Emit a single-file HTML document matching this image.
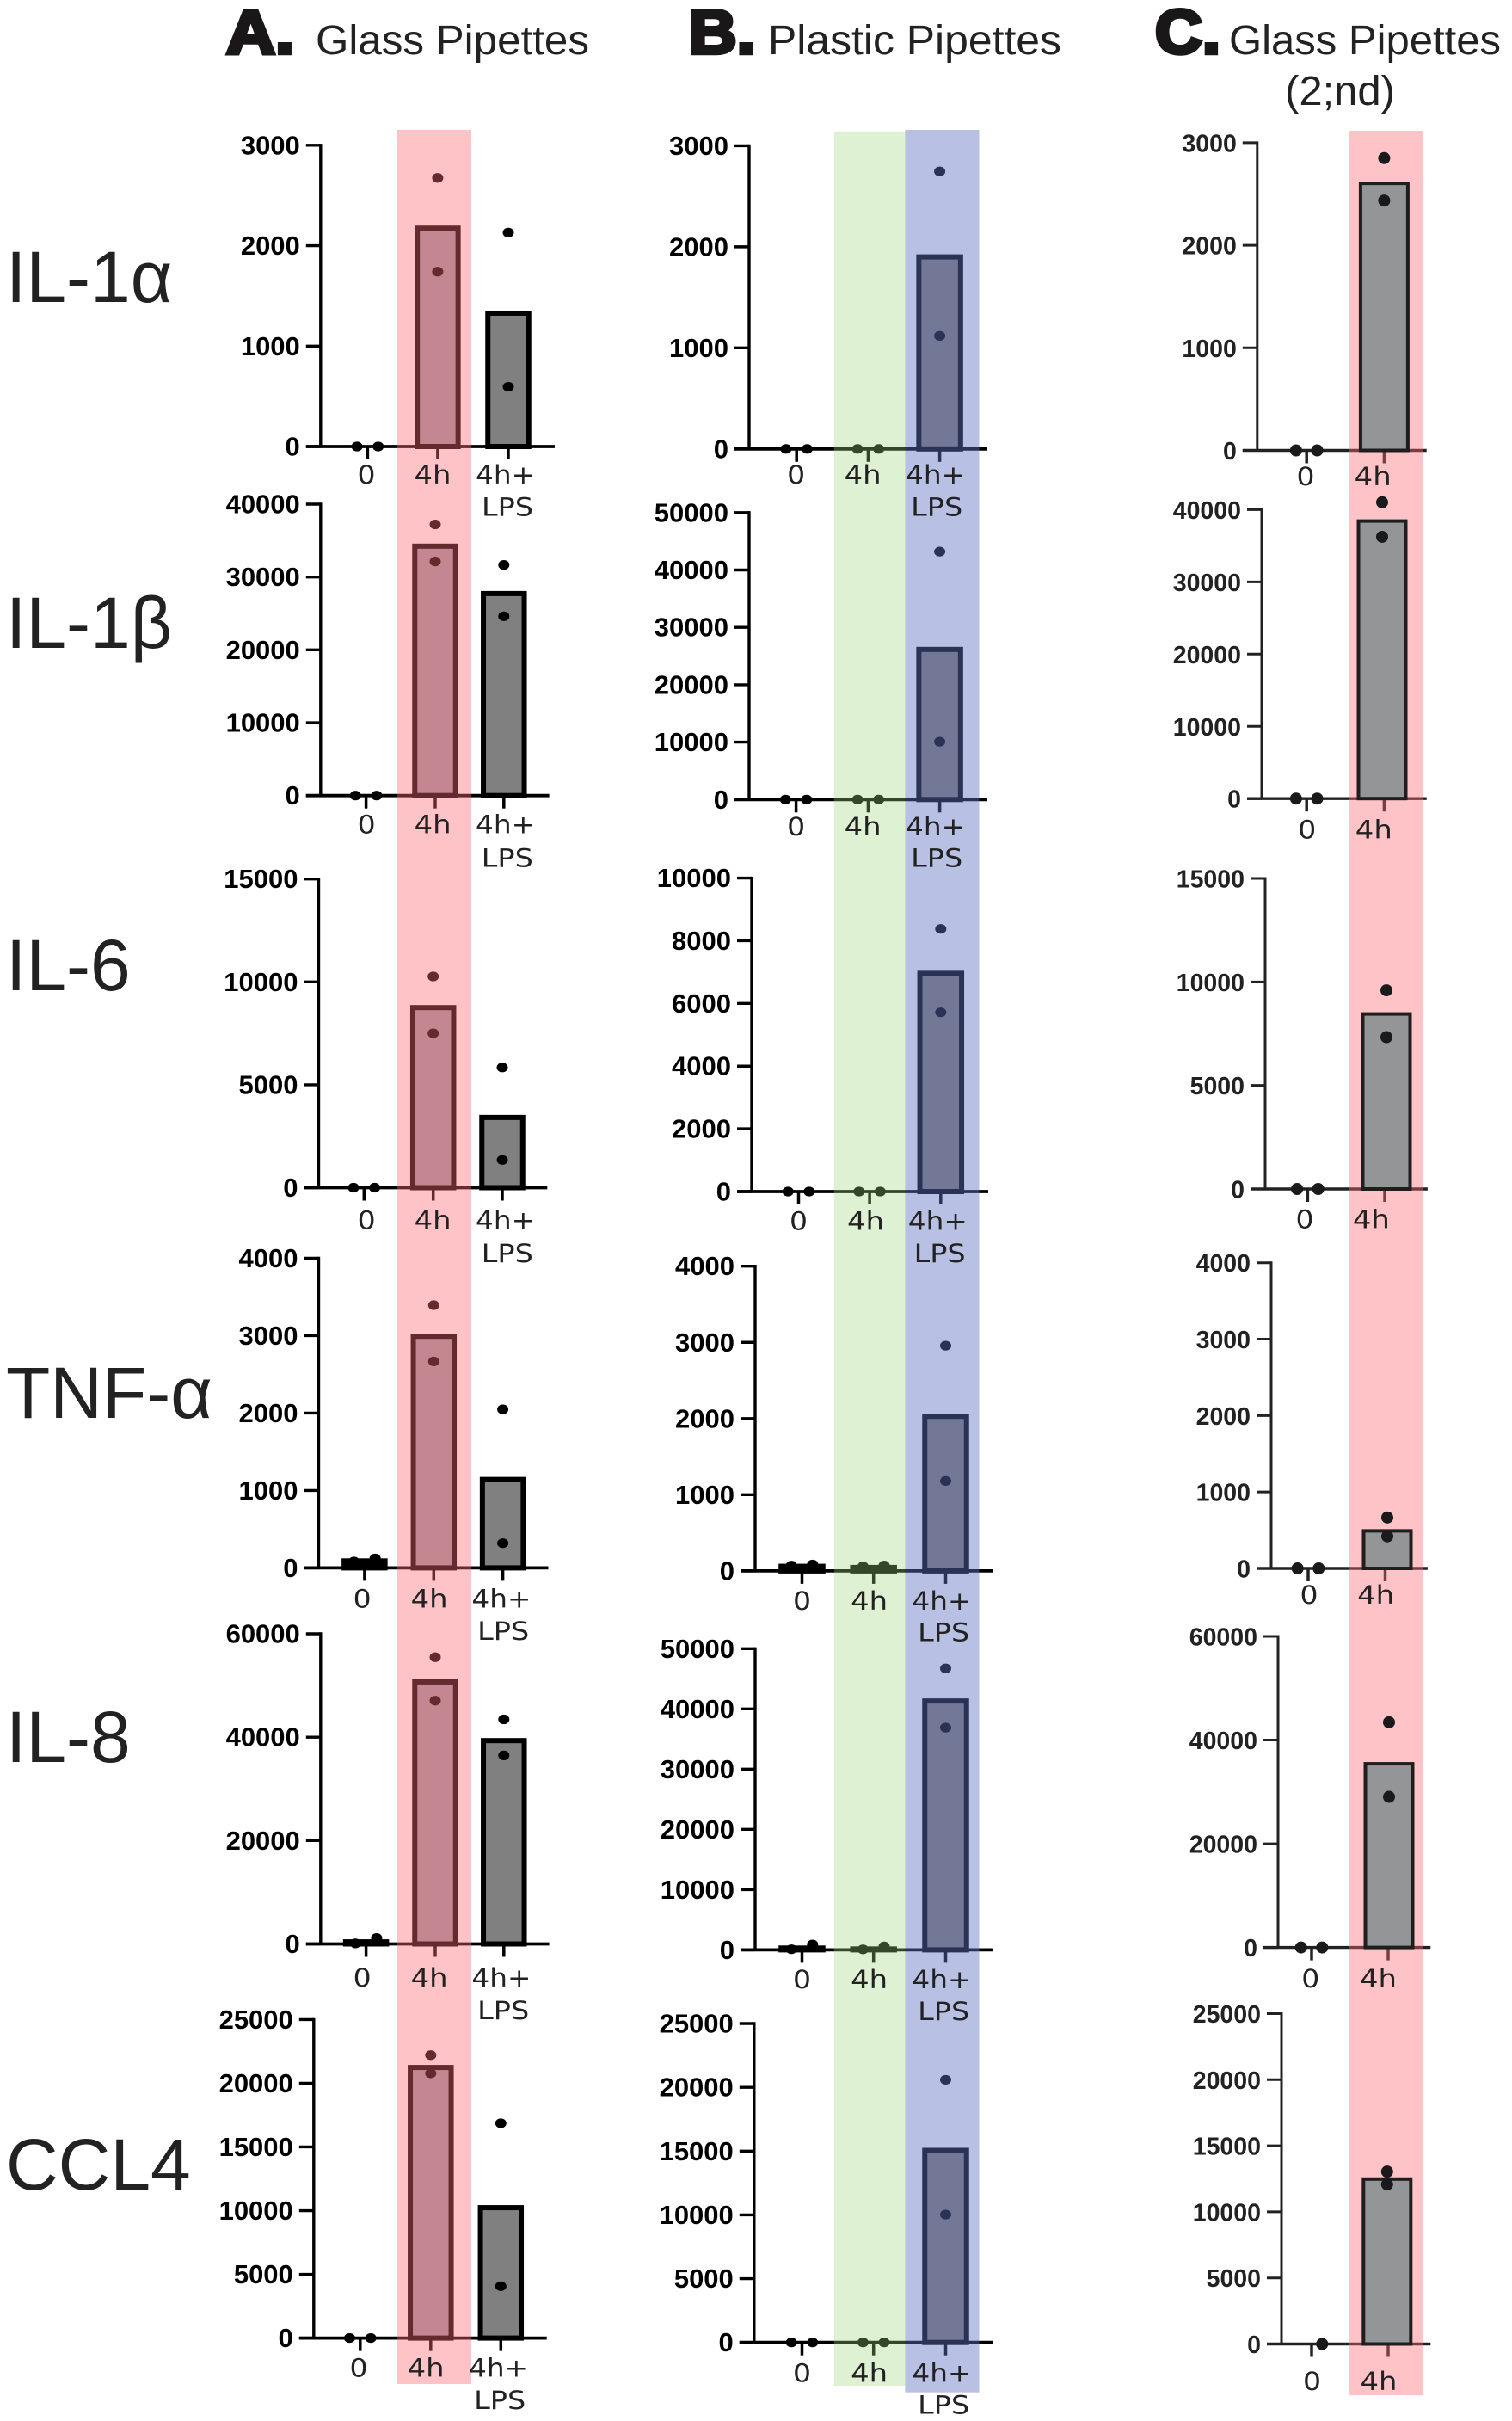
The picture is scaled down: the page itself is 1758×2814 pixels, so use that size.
<!DOCTYPE html>
<html lang="en">
<head>
<meta charset="utf-8">
<title>Cytokine release by pipette type</title>
<style>
html,body{margin:0;padding:0;background:#fff;}
svg{display:block;}
.row-title{font-family:"Liberation Sans",sans-serif;font-size:84px;fill:#222;}
.head-letter{font-family:"Liberation Sans",sans-serif;font-weight:700;font-size:72px;fill:#1a1718;stroke:#1a1718;stroke-width:4.5px;}
.head-text{font-family:"Liberation Sans",sans-serif;font-size:48px;fill:#222;}
</style>
</head>
<body>
<svg id="figure" xmlns="http://www.w3.org/2000/svg" width="1758" height="2814" viewBox="0 0 1758 2814">
  <rect x="0" y="0" width="1758" height="2814" fill="#ffffff"/>
  <g id="charts-under"></g>
  <g id="bands"></g>
  <g id="charts-over"></g>
  <g id="x-labels"></g>

  <text class="head-letter" x="263" y="62" textLength="79" lengthAdjust="spacingAndGlyphs">A.</text>
  <text class="head-text" x="367" y="63" textLength="318" lengthAdjust="spacingAndGlyphs">Glass Pipettes</text>
  <text class="head-letter" x="801" y="62" textLength="77" lengthAdjust="spacingAndGlyphs">B.</text>
  <text class="head-text" x="893" y="63" textLength="341" lengthAdjust="spacingAndGlyphs">Plastic Pipettes</text>
  <text class="head-letter" x="1343" y="62" textLength="76" lengthAdjust="spacingAndGlyphs">C.</text>
  <text class="head-text" x="1429" y="63" textLength="316" lengthAdjust="spacingAndGlyphs">Glass Pipettes</text>
  <text class="head-text" x="1494" y="122" textLength="128" lengthAdjust="spacingAndGlyphs">(2;nd)</text>

  <text class="row-title" x="7" y="351">IL-1α</text>
  <text class="row-title" x="7" y="753">IL-1β</text>
  <text class="row-title" x="7" y="1151">IL-6</text>
  <text class="row-title" x="7" y="1648">TNF-α</text>
  <text class="row-title" x="7" y="2048">IL-8</text>
  <text class="row-title" x="7" y="2545">CCL4</text>
</svg>
<script>
// ---------- data ----------
const cytokines = ['il-1-alpha', 'il-1-beta', 'il-6', 'tnf-alpha', 'il-8', 'ccl4'];
const categoriesAB = ['0', '4h', '4h+|LPS'];
const categoriesC = ['0', '4h'];

const yMaxA = [3000, 40000, 15000, 4000, 60000, 25000];
const yStepA = [1000, 10000, 5000, 1000, 20000, 5000];
const yMaxB = [3000, 50000, 10000, 4000, 50000, 25000];
const yStepB = [1000, 10000, 2000, 1000, 10000, 5000];
const yMaxC = [3000, 40000, 15000, 4000, 60000, 25000];
const yStepC = [1000, 10000, 5000, 1000, 20000, 5000];

const barsA = [
  [0, 2174, 1328],
  [0, 34237, 27729],
  [0, 8750, 3413],
  [90, 2992, 1142],
  [400, 50692, 39332],
  [0, 21240, 10233]
];
const dotsA = [
  [[0, 0], [2675, 1741], [2130, 595]],
  [[0, 0], [37220, 32136], [31661, 24610]],
  [[0, 0], [10264, 7500], [5841, 1346]],
  [[83, 121], [3394, 2667], [2048, 319]],
  [[100, 1150], [55465, 47064], [43437, 36468]],
  [[0, 0], [22209, 20775], [16860, 4070]]
];
const barsB = [
  [0, 0, 1900],
  [0, 0, 26161],
  [0, 0, 6961],
  [60, 45, 2029],
  [300, 150, 41311],
  [0, 0, 15054]
];
const dotsB = [
  [[0, 0], [0, 0], [2746, 1119]],
  [[0, 0], [0, 0], [43200, 10069]],
  [[0, 0], [0, 0], [8378, 5717]],
  [[70, 84], [58, 71], [2956, 1180]],
  [[100, 900], [80, 570], [46721, 36885]],
  [[0, 0], [0, 0], [20588, 10023]]
];
const barsC = [
  [0, 2604],
  [0, 38427],
  [0, 8452],
  [0, 491],
  [0, 35429],
  [0, 12481]
];
const dotsC = [
  [[0, 0], [2850, 2436]],
  [[0, 0], [41025, 36239]],
  [[0, 0], [9595, 7333]],
  [[0, 0], [666, 420]],
  [[0, 0], [43429, 29048]],
  [[0], [13042, 12070]]
];

// ---------- panel geometry (page layout, separate from data) ----------
const layoutA = [
  {ax:372.8, top:168.8, zero:519, end:645, ticks:[427.4,508.9,591], labels:[426,503,587.5,590], ly:[551.6,589]},
  {ax:372.8, top:586, zero:924.7, end:638.6, ticks:[425.6,506,585.8], labels:[426.2,503.1,587.5,589.8], ly:[958,997]},
  {ax:370.5, top:1021.7, zero:1380.5, end:636.3, ticks:[423.3,503.7,584], labels:[426.2,503.1,587.5,589.8], ly:[1417.8,1456.3]},
  {ax:370.5, top:1462.5, zero:1822.4, end:637.5, ticks:[423.9,504.3,584.6], labels:[421.1,499.1,582.9,585.2], ly:[1858,1895.3]},
  {ax:372.8, top:1899, zero:2259.5, end:638.6, ticks:[425.6,506,585.8], labels:[421.1,499.1,582.9,585.2], ly:[2298.6,2336.5]},
  {ax:364.8, top:2347.4, zero:2717.6, end:635.7, ticks:[418.8,500.8,582.3], labels:[417,495.1,579.5,581.2], ly:[2752,2789.3]}
];
const layoutB = [
  {ax:871, top:169.4, zero:521.8, end:1148, ticks:[926.2,1009.4,1092.6], labels:[925.6,1003.1,1087.5,1089.2], ly:[551.6,589]},
  {ax:871, top:595.8, zero:929.3, end:1148, ticks:[925.6,1009.4,1092.6], labels:[925.6,1003.1,1087.5,1089.2], ly:[960.3,997]},
  {ax:874, top:1020.6, zero:1385, end:1149, ticks:[928.5,1011.1,1093.8], labels:[928.5,1006.5,1090.3,1092.6], ly:[1418.9,1456.3]},
  {ax:878, top:1471.7, zero:1825.9, end:1154.7, ticks:[932.5,1015.7,1099.5], labels:[932.5,1010.6,1094.9,1097.2], ly:[1860.3,1897]},
  {ax:878, top:1916.3, zero:2266.4, end:1154.7, ticks:[932.5,1015.7,1099.5], labels:[932.5,1010.6,1094.9,1097.2], ly:[2300.3,2337.6]},
  {ax:876.8, top:2352, zero:2722.7, end:1154.7, ticks:[932.5,1015.7,1099.5], labels:[932.5,1010.6,1094.9,1097.2], ly:[2757.8,2795]}
];
const layoutC = [
  {ax:1461.8, top:165.9, zero:523.5, end:1658.7, ticks:[1519.2,1609.4], barX:1609.4, labels:[1518,1596.2], ly:[553.4]},
  {ax:1467, top:592.4, zero:928.2, end:1658.7, ticks:[1519.2,1609.4], barX:1607, labels:[1519.8,1597.3], ly:[963.8]},
  {ax:1471, top:1021, zero:1382, end:1659.9, ticks:[1520.4,1610], barX:1612, labels:[1517,1594.4], ly:[1417.2]},
  {ax:1478, top:1467.7, zero:1823, end:1659.9, ticks:[1521,1610.5], barX:1613, labels:[1522,1599.6], ly:[1853.5]},
  {ax:1486, top:1902, zero:2263.6, end:1663.3, ticks:[1525,1614], barX:1615, labels:[1523.8,1602.5], ly:[2299.7]},
  {ax:1490, top:2340.5, zero:2724.5, end:1663.3, ticks:[1525,1614], barX:1612.8, labels:[1525.5,1603], ly:[2767.5]}
];
const bandShapes = [
  {name:'band-a-pink', x:462, w:86, top:151, bottom:2771, fill:'rgba(250,105,115,.4)'},
  {name:'band-b-green', x:969.8, w:82.6, top:152.7, bottom:2773, fill:'rgba(159,213,123,.333)'},
  {name:'band-b-blue', x:1052.4, w:86.1, top:151, bottom:2780.7, fill:'rgba(95,113,194,.443)'},
  {name:'band-c-pink', x:1569, w:86, top:152, bottom:2784, fill:'rgba(250,105,115,.4)'}
];
const labelWidths = {'0':21, '4h':43, '4h+':69, 'LPS':60};

const NS = 'http://www.w3.org/2000/svg';
const under = document.getElementById('charts-under');
const bandLayer = document.getElementById('bands');
const over = document.getElementById('charts-over');
const labelLayer = document.getElementById('x-labels');

function make(tag, attrs, parent) {
  const el = document.createElementNS(NS, tag);
  for (const k in attrs) el.setAttribute(k, attrs[k]);
  parent.appendChild(el);
  return el;
}

function drawPanel(col, row, layout, yMax, yStep, bars, dots, cats, style) {
  const yScale = v => layout.zero - (v / yMax) * (layout.zero - layout.top);
  const axisG = make('g', {}, under);
  
  
  const markG = make('g', {}, style.marksOver ? over : under);
  
  

  // y axis
  const yAxis = make('line', {x1:layout.ax, x2:layout.ax, y1:layout.top - style.axisW / 2, y2:layout.zero, stroke:style.axis, 'stroke-width':style.axisW}, axisG);
  
  
  const tickLeft = layout.ax - 17;
  for (let v = 0; v <= yMax + 0.001; v += yStep) {
    const y = yScale(v);
    const t = make('line', {x1:tickLeft, x2:layout.ax, y1:y, y2:y, stroke:style.axis, 'stroke-width':style.axisW}, axisG);
    
    
    const lab = make('text', {x:tickLeft - 7, y:y + 10.5, 'text-anchor':'end', 'font-family':'"Liberation Sans",sans-serif', 'font-weight':'700', 'font-size':style.tickFont, fill:style.tickFill}, axisG);
    lab.textContent = String(v);
    
    
  }

  // x axis
  const xAxis = make('line', {x1:tickLeft, x2:layout.end, y1:layout.zero, y2:layout.zero, stroke:style.axis, 'stroke-width':style.axisW + 0.4}, axisG);
  
  

  let labelIndex = 0;
  cats.forEach((cat, g) => {
    const tx = layout.ticks[g];
    const bx = layout.barX && g === cats.length - 1 ? layout.barX : tx;
    const t = make('line', {x1:tx, x2:tx, y1:layout.zero, y2:layout.zero + 15, stroke:style.axis, 'stroke-width':3.5}, axisG);
    
    

    cat.split('|').forEach((part, li) => {
      const lx = layout.labels[labelIndex++];
      const cy = layout.ly[li];
      const lab = make('text', {x:lx, y:cy + 10.5, 'text-anchor':'middle', 'font-family':'"DejaVu Sans",sans-serif', 'font-size':29, fill:'#222', textLength:labelWidths[part], lengthAdjust:'spacingAndGlyphs'}, labelLayer);
      lab.textContent = part;
      
      
    });

    // bar
    const v = bars[row][g];
    const y = yScale(v);
    const rect = make('rect', {x:bx - style.barW / 2, y:y, width:style.barW, height:Math.max(0, layout.zero - y), fill:style.fills[g], stroke:style.barStroke, 'stroke-width':style.barStrokeW}, markG);
    
    

    // points
    const pts = dots[row][g];
    pts.forEach((p, i) => {
      let dx = 0;
      if (style.spread[g]) {
        dx = pts.length === 1 ? 12.3 : (i === 0 ? -12.3 : 12.3);
      }
      const dot = make('ellipse', {cx:bx + dx, cy:yScale(p), rx:style.dotRx, ry:style.dotRy, fill:style.dot}, markG);
      
      
    });
  });
}

function part0(cat) {
  return cat.replace('|', '-').replace('+', '-plus').toLowerCase();
}

const styleA = {axis:'#000', axisW:3.4, tickFont:31, tickFill:'#000', barW:47.5, barStroke:'#000', barStrokeW:6,
  fills:['#000000', '#a09aa3', '#808080'], dot:'#000', dotRx:6.5, dotRy:5.6, spread:[true, false, false], marksOver:false};
const styleB = {axis:'#000', axisW:3.4, tickFont:31, tickFill:'#000', barW:48.5, barStroke:'#000', barStrokeW:6,
  fills:['#000000', '#000000', '#837f73'], dot:'#000', dotRx:6.5, dotRy:5.6, spread:[true, true, false], marksOver:false};
const styleC = {axis:'#222', axisW:3, tickFont:28.5, tickFill:'#222', barW:55, barStroke:'#1e1e1e', barStrokeW:4,
  fills:['#000000', '#939597'], dot:'#1a1a1c', dotRx:7, dotRy:7, spread:[true, false], marksOver:true};

cytokines.forEach((name, r) => {
  drawPanel('a', r, layoutA[r], yMaxA[r], yStepA[r], barsA, dotsA, categoriesAB, styleA);
  drawPanel('b', r, layoutB[r], yMaxB[r], yStepB[r], barsB, dotsB, categoriesAB, styleB);
  drawPanel('c', r, layoutC[r], yMaxC[r], yStepC[r], barsC, dotsC, categoriesC, styleC);
});

bandShapes.forEach(b => {
  const rect = make('rect', {x:b.x, y:b.top, width:b.w, height:b.bottom - b.top, fill:b.fill}, bandLayer);
  
  
});
</script>
</body>
</html>
